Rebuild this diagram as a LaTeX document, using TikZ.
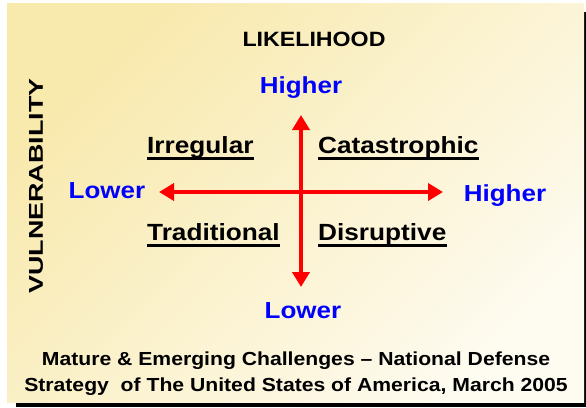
\documentclass[tikz,border=0pt]{standalone}
\usepackage{fontspec}
\setmainfont[FakeStretch=1.12]{Liberation Sans}
\usetikzlibrary{arrows.meta}
\definecolor{panelyellow}{RGB}{248,233,172}
\definecolor{panelcream}{RGB}{254,251,240}
\newcommand{\fsz}[1]{\fontsize{#1}{#1}\selectfont\bfseries}

\begin{document}
\begin{tikzpicture}[x=1pt,y=-1pt,
	axisword/.style={text=blue,anchor=base,font=\fsz{23.2}},
	quadrant/.style={inner sep=0pt,anchor=base west,font=\fsz{23.4},
		append after command={([yshift=-5.5pt]\tikzlastnode.base west) edge[line width=2.6pt] ([yshift=-5.5pt]\tikzlastnode.base east)}},
	caption/.style={anchor=base,font=\fsz{18.9}},
	axis/.style={red,line width=4.5pt,{Triangle[width=17pt,length=15pt]}-{Triangle[width=17pt,length=15pt]}}]
		\useasboundingbox (0,0) rectangle (586,407);
		\fill[black] (16,12) rectangle (586,407);
		\shade[top color=panelyellow,bottom color=panelcream,shading angle=45] (7,3) rectangle (584,402);

		\node[anchor=base,font=\fsz{20.7}] (likelihood) at (314,46) {LIKELIHOOD};
		\node[rotate=90,font=\fsz{20}] (vulnerability) at (36,186) {\scalebox{1.2}[1]{VULNERABILITY}};

		\coordinate (ytop) at (301,115);
		\coordinate (ybot) at (301,287);
		\coordinate (xleft) at (159,192);
		\coordinate (xright) at (443,192);
		\draw[axis] (ybot) -- (ytop);
		\draw[axis] (xleft) -- (xright);

		\node[axisword] (lhigh) at (301,93) {Higher};
		\node[axisword] (llow) at (303,318) {Lower};
		\node[axisword] (vlow) at (107,198) {Lower};
		\node[axisword] (vhigh) at (505,201) {Higher};

		\node[quadrant] (irregular) at (147,153) {Irregular};
		\node[quadrant] (catastrophic) at (318,153) {Catastrophic};
		\node[quadrant] (traditional) at (147,240) {Traditional};
		\node[quadrant] (disruptive) at (318,240) {Disruptive};

		\node[caption] (cap1) at (296,365) {Mature \& Emerging Challenges -- National Defense};
		\node[caption] (cap2) at (296,391) {Strategy\ \ of The United States of America, March 2005};
	\end{tikzpicture}
\end{document}
